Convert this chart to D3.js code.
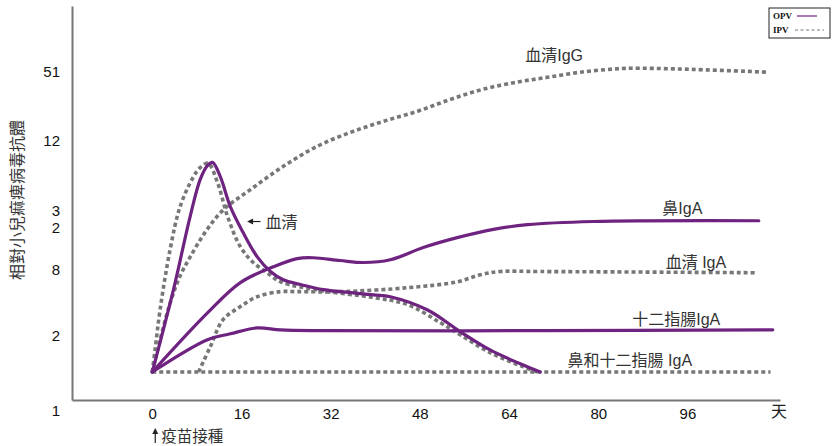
<!DOCTYPE html>
<html>
<head>
<meta charset="utf-8">
<script src="https://cdn.jsdelivr.net/npm/d3@7"></script>
<style>
  html, body { margin: 0; padding: 0; background: #fff; }
  svg { display: block; }
  text { font-family: "Liberation Sans", Arial, "Noto Sans CJK TC", sans-serif; }
</style>
</head>
<body>
<svg id="chart" width="833" height="446"></svg>
<script>
// Days after vaccination shown on the x axis
const dayTicks = [0, 16, 32, 48, 64, 80, 96];

// Relative antibody level: tick positions and the labels printed at them
const levelTickValues = [83.3, 65.7, 48.0, 43.8, 33.1, 16.3, -2.8];
const levelTickLabels = ["51", "12", "3", "2", "8", "2", "1"];

// Each series: [day, relative antibody level]
// OPV (oral vaccine)
const opvSerum = [[0, 7.1], [3.8, 28.0], [6.8, 46.6], [8.6, 56.0], [9.9, 59.5], [10.8, 60.3],
  [12.2, 56.7], [14.0, 49.1], [16.3, 42.5], [18.8, 36.4], [21.2, 32.6], [23.5, 30.5],
  [26.6, 29.3], [30.7, 28.0], [39.7, 26.7], [42.7, 26.2], [49.3, 22.9], [55.3, 17.3],
  [60.6, 12.7], [66.0, 9.2], [69.6, 7.1]];
const opvNasalIgA = [[0, 7.1], [9.9, 22.1], [15.8, 29.8], [21.7, 33.8], [26.0, 35.9], [28.9, 36.1],
  [33.7, 35.4], [37.9, 34.9], [42.7, 35.6], [48.6, 38.7], [54.7, 41.2], [61.2, 43.3],
  [67.3, 44.5], [79.1, 45.3], [108.8, 45.5]];
const opvDuodenalIgA = [[0, 7.1], [9.9, 15.3], [14.0, 16.8], [18.8, 18.3], [23.0, 17.8],
  [30.1, 17.6], [69.6, 17.6], [111.3, 17.8]];

// IPV (inactivated vaccine)
const ipvSerum = [[0, 7.1], [0.5, 12.7], [1.4, 22.9], [3.2, 38.2], [5.0, 49.1], [7.4, 56.7],
  [8.6, 59.0], [10.0, 60.1], [11.7, 55.2], [13.5, 46.6], [15.8, 38.9], [18.1, 34.9],
  [20.6, 32.3], [23.0, 30.0], [30.7, 27.7], [39.7, 26.0], [45.8, 24.2], [51.7, 19.6],
  [55.3, 16.5], [60.6, 12.0], [66.6, 8.4], [69.1, 7.1]];
const ipvSerumIgG = [[0, 7.1], [1.4, 15.2], [3.2, 24.6], [5.0, 31.5], [6.8, 36.3], [9.5, 42.6],
  [12.7, 48.2], [17.6, 53.4], [23.5, 59.3], [29.6, 64.4], [35.5, 67.9], [41.4, 70.7],
  [47.6, 73.3], [53.5, 76.3], [59.4, 78.9], [65.5, 80.7], [70.9, 81.9], [76.8, 83.2],
  [82.7, 84.0], [85.8, 84.2], [94.7, 84.0], [110.4, 83.2]];
const ipvSerumIgA = [[8.3, 7.1], [10.4, 13.5], [12.7, 20.4], [15.8, 23.7], [18.8, 26.2],
  [23.0, 27.5], [26.0, 27.5], [33.7, 27.5], [45.8, 28.5], [54.7, 30.0], [58.9, 31.8],
  [62.4, 32.6], [69.6, 32.6], [108.6, 32.3]];
const ipvNasalDuodenalIgA = [[0, 7.1], [110.9, 7.1]];

// Curve names, anchored at [day, level]
const curveLabels = [
  { text: "血清IgG", at: [66.9, 86.0] },
  { text: "鼻IgA", at: [91.5, 47.1] },
  { text: "血清 IgA", at: [92.1, 33.6] },
  { text: "十二指腸IgA", at: [86.1, 19.1] },
  { text: "鼻和十二指腸 IgA", at: [74.5, 8.7] }
];

const PURPLE = "#6f2380";
const GREY = "#777";

const svg = d3.select("#chart");

const x = d3.scaleLinear().domain([-14.4, 112.6]).range([72, 780]);
const y = d3.scaleLinear().domain([0, 100]).range([400, 6]);

// Axes
const xAxis = svg.append("g")
  .attr("transform", `translate(0,${y(0)})`)
  .call(d3.axisBottom(x).tickValues(dayTicks).tickSize(0).tickSizeOuter(0).tickPadding(8));
const yAxis = svg.append("g")
  .attr("transform", `translate(${x.range()[0]},0)`)
  .call(d3.axisLeft(y).tickValues(levelTickValues)
    .tickFormat((d, i) => levelTickLabels[i]).tickSize(0).tickSizeOuter(0).tickPadding(12));

[xAxis, yAxis].forEach(g => {
  g.attr("font-family", null).attr("font-size", null);
  g.select(".domain").attr("stroke", GREY).attr("stroke-width", 2);
  g.selectAll("text").attr("font-size", 15).attr("fill", "#111");
});

// Unit label at the end of the day axis
svg.append("text")
  .attr("x", x(112.4)).attr("y", y(0) + 17)
  .attr("text-anchor", "middle")
  .attr("font-size", 16).attr("fill", "#222")
  .text("天");

// Y axis title
svg.append("text")
  .attr("transform", `translate(17,200)rotate(-90)`)
  .attr("text-anchor", "middle").attr("dominant-baseline", "central")
  .attr("font-size", 16).attr("fill", "#333")
  .text("相對小兒痲痺病毒抗體");

// Curves
const line = d3.line()
  .x(d => x(d[0]))
  .y(d => y(d[1]))
  .curve(d3.curveCatmullRom.alpha(0.5));

const dotted = [ipvNasalDuodenalIgA, ipvSerumIgG, ipvSerumIgA, ipvSerum];
const solid = [opvDuodenalIgA, opvNasalIgA, opvSerum];

svg.append("g").selectAll("path").data(dotted).join("path")
  .attr("d", line)
  .attr("fill", "none")
  .attr("stroke", GREY)
  .attr("stroke-width", 3.6)
  .attr("stroke-dasharray", "4 3");

svg.append("g").selectAll("path").data(solid).join("path")
  .attr("d", line)
  .attr("fill", "none")
  .attr("stroke", PURPLE)
  .attr("stroke-width", 3.2)
  .attr("stroke-linecap", "round")
  .attr("stroke-linejoin", "round");

// Curve names
svg.append("g").selectAll("text").data(curveLabels).join("text")
  .attr("x", d => x(d.at[0]))
  .attr("y", d => y(d.at[1]))
  .attr("font-size", 16).attr("fill", "#333")
  .text(d => d.text);

// "← 血清" pointer
const ptrY = y(45.3);
const ptrTip = x(17.0), ptrEnd = x(19.4);
svg.append("line")
  .attr("x1", ptrTip + 4).attr("x2", ptrEnd).attr("y1", ptrY).attr("y2", ptrY)
  .attr("stroke", "#222").attr("stroke-width", 1.2);
svg.append("path")
  .attr("d", `M${ptrTip},${ptrY}L${ptrTip + 6},${ptrY - 3}L${ptrTip + 6},${ptrY + 3}Z`)
  .attr("fill", "#222");
svg.append("text")
  .attr("x", x(20.3)).attr("y", ptrY + 6)
  .attr("font-size", 16).attr("fill", "#333")
  .text("血清");

// Vaccination marker under day 0
const vx = x(0) + 3;
svg.append("line")
  .attr("x1", vx).attr("x2", vx).attr("y1", 443).attr("y2", 432)
  .attr("stroke", "#222").attr("stroke-width", 1.2);
svg.append("path")
  .attr("d", `M${vx},${428}L${vx - 3},${434}L${vx + 3},${434}Z`)
  .attr("fill", "#222");
svg.append("text")
  .attr("x", vx + 6).attr("y", 442)
  .attr("font-size", 15.5).attr("fill", "#333")
  .text("疫苗接種");

// Legend
const legend = svg.append("g").attr("transform", "translate(769,8)");
legend.append("rect")
  .attr("width", 61).attr("height", 30)
  .attr("fill", "#fff").attr("stroke", "#222").attr("stroke-width", 1);
legend.append("text")
  .attr("x", 4).attr("y", 11)
  .style("font-family", "'Liberation Serif', 'Times New Roman', serif")
  .attr("font-size", 9).attr("font-weight", "bold").attr("fill", "#111")
  .text("OPV");
legend.append("line")
  .attr("x1", 28).attr("x2", 48).attr("y1", 8).attr("y2", 8)
  .attr("stroke", PURPLE).attr("stroke-width", 1.2);
legend.append("text")
  .attr("x", 4).attr("y", 25)
  .style("font-family", "'Liberation Serif', 'Times New Roman', serif")
  .attr("font-size", 9).attr("font-weight", "bold").attr("fill", "#111")
  .text("IPV");
legend.append("line")
  .attr("x1", 26).attr("x2", 55).attr("y1", 22).attr("y2", 22)
  .attr("stroke", GREY).attr("stroke-width", 1.2)
  .attr("stroke-dasharray", "3 2.5");
</script>
</body>
</html>
